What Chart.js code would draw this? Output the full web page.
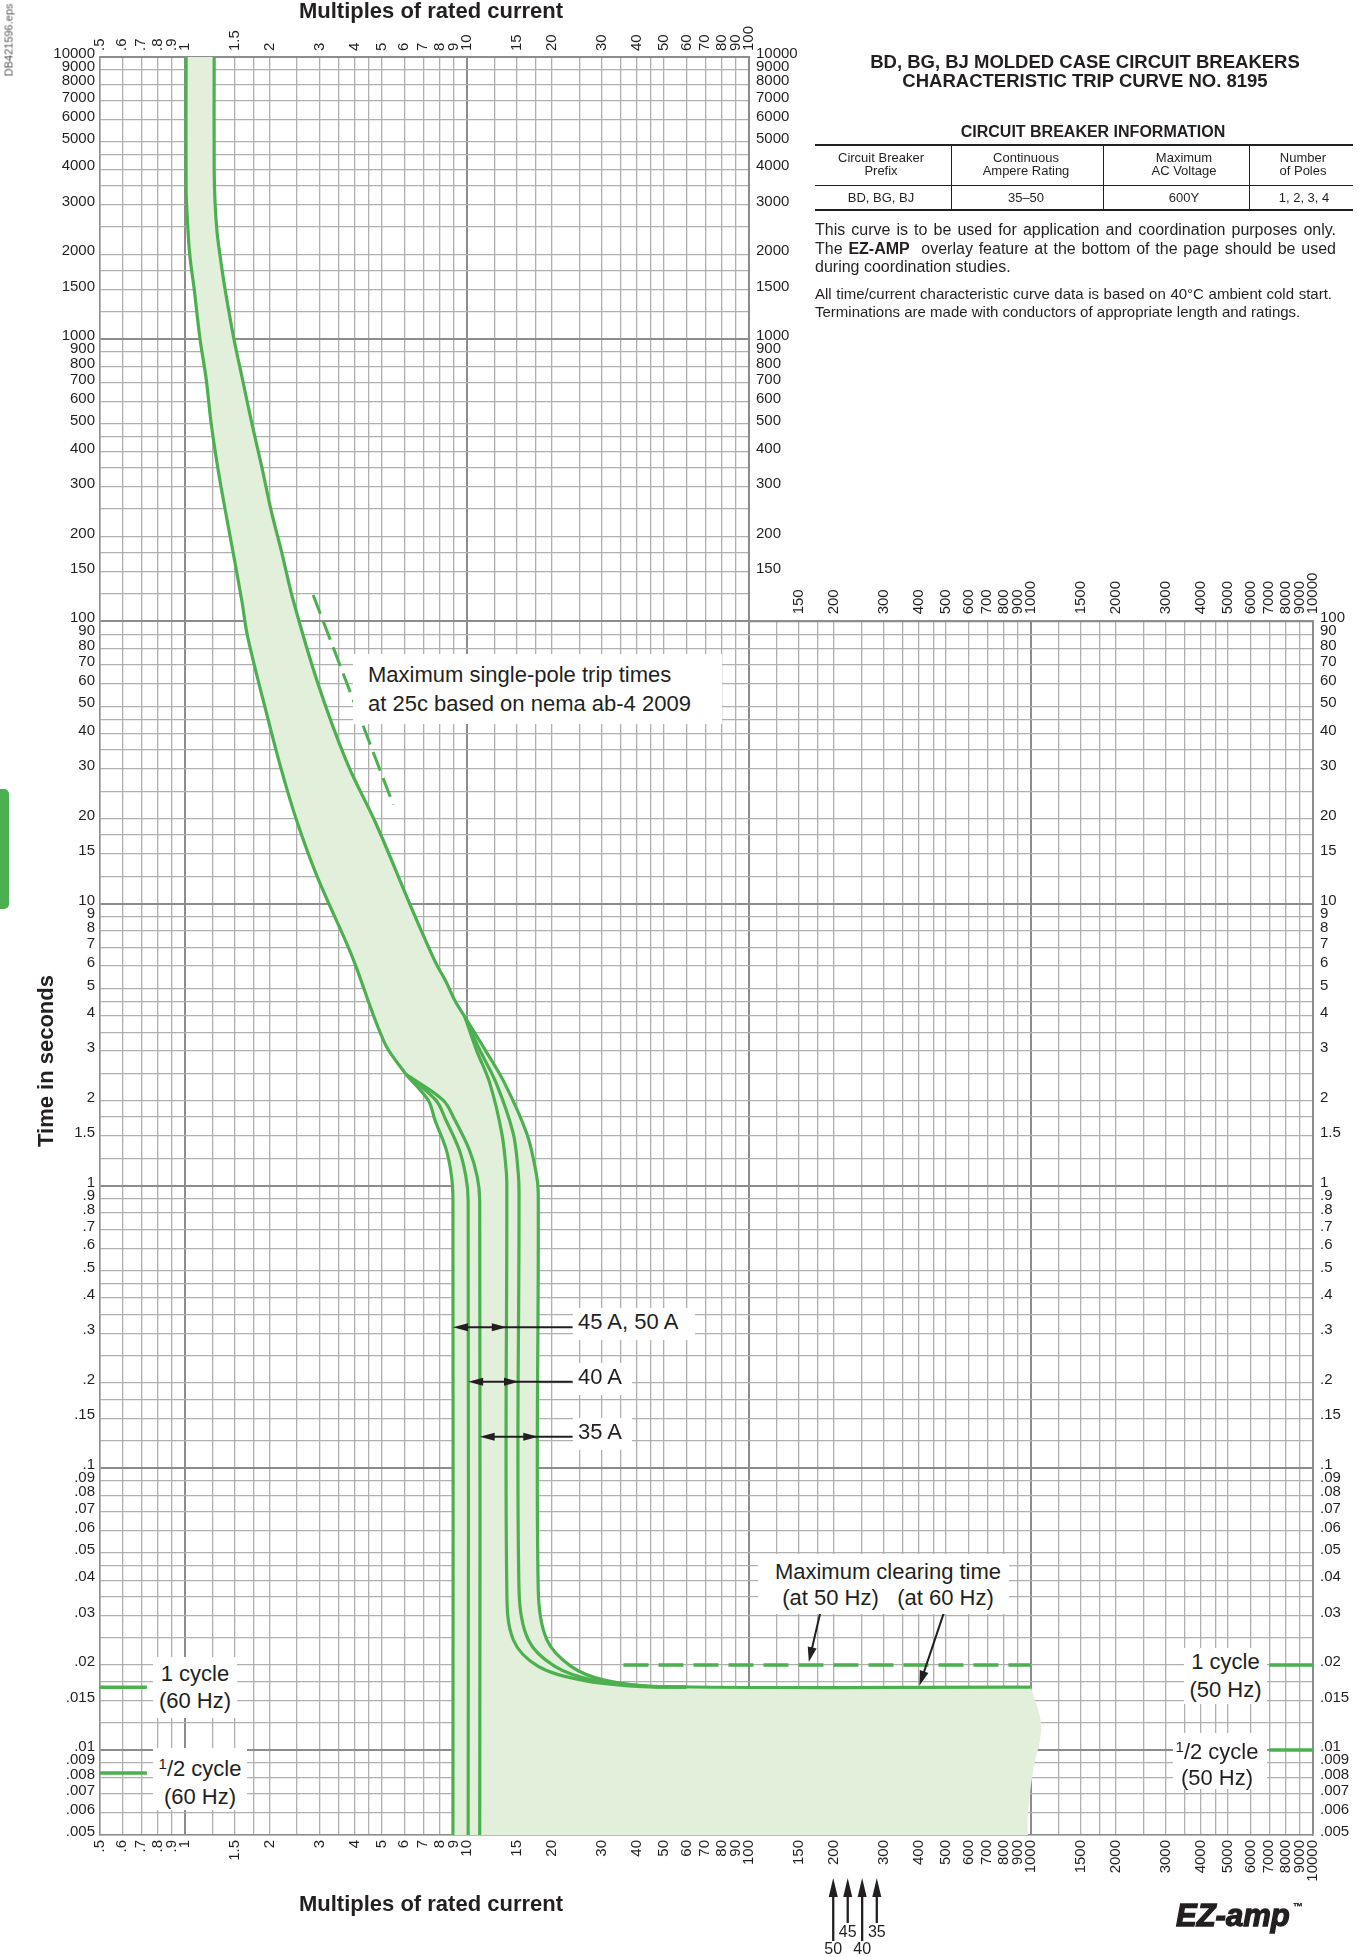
<!DOCTYPE html>
<html lang="en">
<head>
<meta charset="utf-8">
<title>BD, BG, BJ trip curve 8195</title>
<script src="https://cdn.jsdelivr.net/npm/chart.js@4.4.1/dist/chart.umd.min.js"></script>
<style>
html, body { margin: 0; padding: 0; background: #fff; }
body { position: relative; width: 1362px; height: 1957px; overflow: hidden;
       font-family: "Liberation Sans", Arial, Helvetica, sans-serif; color: #231f20; }
#chart { position: absolute; left: 0; top: 0; }
.t { position: absolute; white-space: nowrap; line-height: 1; }
.c { transform: translate(-50%, -50%); text-align: center; }
.note { position: absolute; background: #fff; font-size: 22px; white-space: nowrap; box-sizing: border-box; }
.rule { position: absolute; background: #231f20; }
.cell { position: absolute; font-size: 13px; line-height: 13px; text-align: center; transform: translate(-50%, -50%); white-space: nowrap; }
.para { position: absolute; left: 815px; text-align: justify; text-align-last: justify; }
.sup { font-size: 15px; vertical-align: 7px; }
</style>
</head>
<body>
<canvas id="chart" width="1362" height="1957"></canvas>

<div class="t" style="left:9px;top:40px;font-size:11px;color:#555;transform:translate(-50%,-50%) rotate(-90deg)">DB421596.eps</div>
<div style="position:absolute;left:0;top:789px;width:9px;height:120px;background:#4cb050;border-radius:0 5px 5px 0"></div>

<div class="t c" style="left:431px;top:11px;font-weight:bold;font-size:22px">Multiples of rated current</div>
<div class="t c" style="left:431px;top:1904px;font-weight:bold;font-size:22px">Multiples of rated current</div>
<div class="t" style="left:46px;top:1061px;font-weight:bold;font-size:22px;transform:translate(-50%,-50%) rotate(-90deg)">Time in seconds</div>

<div class="t c" style="left:1085px;top:71px;font-weight:bold;font-size:18.5px;line-height:19px">BD, BG, BJ MOLDED CASE CIRCUIT BREAKERS<br>CHARACTERISTIC TRIP CURVE NO. 8195</div>
<div class="t c" style="left:1093px;top:131.5px;font-weight:bold;font-size:16px">CIRCUIT BREAKER INFORMATION</div>

<div class="rule" style="left:815px;top:144px;width:538px;height:2px"></div>
<div class="rule" style="left:815px;top:184.5px;width:538px;height:1px"></div>
<div class="rule" style="left:815px;top:209px;width:538px;height:2px"></div>
<div class="rule" style="left:951px;top:146px;width:1px;height:63px"></div>
<div class="rule" style="left:1103px;top:146px;width:1px;height:63px"></div>
<div class="rule" style="left:1249px;top:146px;width:1px;height:63px"></div>
<div class="cell" style="left:881px;top:163.5px">Circuit Breaker<br>Prefix</div>
<div class="cell" style="left:1026px;top:163.5px">Continuous<br>Ampere Rating</div>
<div class="cell" style="left:1184px;top:163.5px">Maximum<br>AC Voltage</div>
<div class="cell" style="left:1303px;top:163.5px">Number<br>of Poles</div>
<div class="cell" style="left:881px;top:197px">BD, BG, BJ</div>
<div class="cell" style="left:1026px;top:197px">35–50</div>
<div class="cell" style="left:1184px;top:197px">600Y</div>
<div class="cell" style="left:1304px;top:197px">1, 2, 3, 4</div>

<div class="para" style="top:221px;width:521px;font-size:16px;line-height:18.5px">This curve is to be used for application and coordination purposes only.</div>
<div class="para" style="top:239.5px;width:521px;font-size:16px;line-height:18.5px">The <b>EZ-AMP</b>&nbsp; overlay feature at the bottom of the page should be used</div>
<div class="para" style="top:258px;width:521px;font-size:16px;line-height:18.5px;text-align:left;text-align-last:left">during coordination studies.</div>
<div class="para" style="top:284.5px;width:517px;font-size:15px;line-height:18px">All time/current characteristic curve data is based on 40°C ambient cold start.</div>
<div class="para" style="top:302.5px;width:521px;font-size:15px;line-height:18px;text-align:left;text-align-last:left">Terminations are made with conductors of appropriate length and ratings.</div>

<div class="note" style="left:353px;top:654px;width:369px;height:70px;padding:6px 0 0 15px;line-height:29px">Maximum single-pole trip times<br>at 25c based on nema ab-4 2009</div>
<div class="note" style="left:573px;top:1308px;width:122px;height:32px;padding-left:5px;line-height:28px">45 A, 50 A</div>
<div class="note" style="left:573px;top:1363px;width:59px;height:32px;padding-left:5px;line-height:28px">40 A</div>
<div class="note" style="left:573px;top:1418px;width:59px;height:32px;padding-left:5px;line-height:28px">35 A</div>
<div class="note" style="left:758px;top:1554px;width:251px;height:60px;padding:5px 0 0 9px;line-height:26px;text-align:center">Maximum clearing time<br>(at 50 Hz)&nbsp;&nbsp;&nbsp;(at 60 Hz)</div>
<div class="note" style="left:153px;top:1657px;width:84px;height:61px;padding-top:2.5px;line-height:27px;text-align:center">1 cycle<br>(60 Hz)</div>
<div class="note" style="left:153px;top:1748px;width:94px;height:62px;padding-top:2px;line-height:28px;text-align:center"><span class="sup">1</span>/2 cycle<br>(60 Hz)</div>
<div class="note" style="left:1184px;top:1648px;width:83px;height:56px;line-height:28px;text-align:center">1 cycle<br>(50 Hz)</div>
<div class="note" style="left:1173px;top:1733px;width:94px;height:56px;padding:1px 6px 0 0;line-height:26px;text-align:center"><span class="sup">1</span>/2 cycle<br>(50 Hz)</div>

<div class="t" style="left:1176px;top:1891px;font-style:italic;font-weight:bold;font-size:31px;line-height:31px;letter-spacing:0px;-webkit-text-stroke:1.3px #231f20">EZ-amp<span style="font-size:10px;vertical-align:16px;font-style:normal;-webkit-text-stroke:0.3px #231f20;margin-left:3px">™</span></div>

<script>
// tick labels (as printed on the sheet)
const xTickLabels = ['.5', '.6', '.7', '.8', '.9', '1', '1.5', '2', '3', '4', '5', '6', '7', '8', '9',
  '10', '15', '20', '30', '40', '50', '60', '70', '80', '90', '100', '150', '200', '300', '400', '500',
  '600', '700', '800', '900', '1000', '1500', '2000', '3000', '4000', '5000', '6000', '7000', '8000', '9000', '10000'];
const yTickLabels = ['.005', '.006', '.007', '.008', '.009', '.01', '.015', '.02', '.03', '.04', '.05', '.06',
  '.07', '.08', '.09', '.1', '.15', '.2', '.3', '.4', '.5', '.6', '.7', '.8', '.9', '1', '1.5', '2', '3', '4',
  '5', '6', '7', '8', '9', '10', '15', '20', '30', '40', '50', '60', '70', '80', '90', '100', '150', '200',
  '300', '400', '500', '600', '700', '800', '900', '1000', '1500', '2000', '3000', '4000', '5000', '6000',
  '7000', '8000', '9000', '10000'];
// grid rulings inside each decade
const gridSteps = [1, 1.25, 1.5, 1.75, 2, 2.5, 3, 3.5, 4, 4.5, 5, 6, 7, 8, 9];

// minimum trip (left edge of band), multiples / seconds
const minTripX = [1.01, 1.01, 1.02, 1.04, 1.08, 1.13, 1.19, 1.24, 1.31, 1.39, 1.48, 1.59, 1.67, 1.95, 2.2, 2.49, 2.95, 3.89, 5.11, 6.08];
const minTripY = [10000, 3400, 2670, 2000, 1490, 1010, 721, 500, 347, 248, 177, 119, 88, 47, 29.7, 19.7, 12.4, 6.6, 3.2, 2.48];
// maximum trip (right edge of band)
const maxTripX = [1.27, 1.27, 1.28, 1.30, 1.33, 1.39, 1.49, 1.60, 1.73, 1.88, 2.02, 2.20, 2.42, 2.95, 3.76, 4.77, 6.29, 7.73, 8.42, 9.06, 9.84];
const maxTripY = [10000, 4000, 3000, 2400, 2000, 1490, 1010, 721, 500, 347, 248, 177, 119, 61, 31.5, 19.1, 9.9, 6.2, 5.3, 4.53, 3.96];

// instantaneous, low side (one per rating)
const instLoY = [2.48, 2.01, 1.71, 1.34, 1.08, 0.89, 0.005];
const inst50LoX = [6.08, 7.29, 7.7, 8.45, 8.82, 8.92, 8.92];
const inst40LoX = [6.08, 7.76, 8.42, 9.39, 9.91, 10.1, 10.1];
const inst35LoX = [6.08, 8.23, 9.06, 10.2, 10.87, 11.1, 11.1];
// instantaneous, high side into max clearing time
const instHiY = [3.96, 3.03, 2.31, 1.53, 1.11, 0.94, 0.037, 0.0246, 0.0198, 0.0177, 0.0168, 0.0167];
const inst50HiX = [9.84, 10.8, 12.05, 13.3, 13.8, 13.85, 13.85, 14.6, 17.9, 25.6, 40.2, 60];
const inst40HiX = [9.84, 11.1, 12.7, 14.6, 15.2, 15.3, 15.3, 16.5, 20.5, 28, 44, 60];
const inst35HiX = [9.84, 11.6, 13.6, 16.3, 17.6, 17.9, 17.9, 19.2, 23.4, 30.7, 48.1, 1000];
// torn edge of the shaded area
const edgeX = [975, 972, 1014, 1087, 1000];
const edgeY = [0.005, 0.00566, 0.0083, 0.0121, 0.0167];

// dashed: NEMA AB-4 single pole, and 50 Hz clearing time
const nemaX = [2.85, 5.48];
const nemaY = [124, 22.4];
const clear50X = [35.9, 1000];
const clear50Y = [0.02, 0.02];
// cycle marks
const markLeftX = [0.5, 0.733];
const markRightX = [7000, 10000];
const cycle60 = 0.0167, halfCycle60 = 0.0083, cycle50 = 0.02, halfCycle50 = 0.01;

// annotation arrows
const ratingArrowY = [0.315, 0.202, 0.129];
const ratingArrowFrom = [8.92, 10.1, 11.1];
const ratingArrowTo = [13.85, 15.3, 17.9];
const ratingArrowTail = 23.7;
const clearArrowFromX = [180, 495];
const clearArrowFromY = [0.0314, 0.0314];
const clearArrowTipX = [163, 402];
const clearArrowTipY = [0.0205, 0.0169];
const overlayArrowX = [199, 224, 252, 284];
const overlayArrowLabels = ['50', '45', '40', '35'];

const green = '#4cb050';
const shade = '#e2efda';
const ink = '#231f20';
const tickFont = { family: '"Liberation Sans", Arial, sans-serif', size: 15 };

function buildGrid(lo, hi) {
  const out = [];
  for (let e = -3; e <= 4; e++) {
    for (const m of gridSteps) {
      const v = +(m * Math.pow(10, e)).toPrecision(6);
      if (v >= lo && v <= hi) out.push(v);
    }
  }
  return out;
}
const xGrid = buildGrid(0.5, 10000);
const yGrid = buildGrid(0.005, 10000);

function labelOf(v, labels) {
  for (const s of labels) {
    const n = parseFloat(s);
    if (Math.abs(n - v) <= n * 1e-6) return s;
  }
  return '';
}
const isDecade = v => Math.abs(Math.log10(v) - Math.round(Math.log10(v))) < 1e-6;
const gridColor = c => (c.tick && isDecade(c.tick.value)) ? '#8c8c8c' : '#b0b0b0';
const gridWidth = c => (c.tick && isDecade(c.tick.value)) ? 2 : 1.3;

const pts = (xs, ys) => xs.map((x, i) => ({ x: x, y: Array.isArray(ys) ? ys[i] : ys }));

function curve(xs, ys, extra) {
  return Object.assign({
    data: pts(xs, ys), borderColor: green, borderWidth: 3.2, pointRadius: 0,
    fill: false, tension: 0.35, borderJoinStyle: 'round', order: 1
  }, extra || {});
}

// outline of the shaded band: left edge down, across the bottom, up the torn edge, back along the right edge
const minPts = pts(minTripX, minTripY);
const lo50 = pts(inst50LoX, instLoY);
const hi35 = pts(inst35HiX, instHiY);
const maxPts = pts(maxTripX, maxTripY);
const edgePts = pts(edgeX, edgeY);
const bandOutline = [].concat(
  minPts,
  lo50.slice(1),
  [lo50[lo50.length - 1]],
  [edgePts[0]],
  edgePts,
  [edgePts[edgePts.length - 1]],
  hi35.slice(0, -1).reverse(),
  maxPts.slice(0, -1).reverse(),
  [maxPts[0]]
);

function head(ctx, tx, ty, fx, fy, len, half) {
  const a = Math.atan2(ty - fy, tx - fx);
  const bx = tx - len * Math.cos(a), by = ty - len * Math.sin(a);
  ctx.beginPath();
  ctx.moveTo(tx, ty);
  ctx.lineTo(bx + half * Math.sin(a), by - half * Math.cos(a));
  ctx.lineTo(bx - half * Math.sin(a), by + half * Math.cos(a));
  ctx.closePath();
  ctx.fill();
}

const overlay = {
  id: 'overlay',
  beforeDatasetsDraw(chart) {
    const { ctx, chartArea: a } = chart;
    const xs = chart.scales.x, ys = chart.scales.y;
    const cx = xs.getPixelForValue(100), cy = ys.getPixelForValue(100);
    ctx.save();
    // the info block sits in the upper right, no ruling there
    ctx.fillStyle = '#fff';
    ctx.fillRect(cx + 1.2, a.top - 3, a.right + 3 - cx - 1.2, cy - 1.2 - (a.top - 3));
    ctx.strokeStyle = '#8c8c8c';
    ctx.lineWidth = 2;
    ctx.beginPath();
    ctx.moveTo(cx, a.top);
    ctx.lineTo(cx, cy);
    ctx.lineTo(a.right, cy);
    ctx.stroke();
    // inner scale labels
    ctx.fillStyle = ink;
    ctx.font = '15px "Liberation Sans", Arial, sans-serif';
    ctx.textAlign = 'left';
    ctx.textBaseline = 'middle';
    for (const s of yTickLabels) {
      const v = parseFloat(s);
      if (v >= 150) ctx.fillText(s, cx + 7, ys.getPixelForValue(v) - 3);
    }
    for (const s of xTickLabels) {
      const v = parseFloat(s);
      if (v < 150) continue;
      ctx.save();
      ctx.translate(xs.getPixelForValue(v), cy - 7);
      ctx.rotate(-Math.PI / 2);
      ctx.fillText(s, 0, 0);
      ctx.restore();
    }
    ctx.restore();
  },
  afterDatasetsDraw(chart) {
    const { ctx } = chart;
    const xs = chart.scales.x, ys = chart.scales.y;
    ctx.save();
    ctx.strokeStyle = ink;
    ctx.fillStyle = ink;
    ctx.lineWidth = 2;
    ratingArrowY.forEach((v, i) => {
      const y = ys.getPixelForValue(v);
      const x1 = xs.getPixelForValue(ratingArrowFrom[i]);
      const x2 = xs.getPixelForValue(ratingArrowTo[i]);
      const x3 = xs.getPixelForValue(ratingArrowTail);
      ctx.beginPath();
      ctx.moveTo(x1 + 6, y);
      ctx.lineTo(x3, y);
      ctx.stroke();
      head(ctx, x1, y, x1 + 10, y, 15, 4);
      head(ctx, x2, y, x2 - 10, y, 15, 4);
    });
    clearArrowTipX.forEach((v, i) => {
      const fx = xs.getPixelForValue(clearArrowFromX[i]), fy = ys.getPixelForValue(clearArrowFromY[i]);
      const tx = xs.getPixelForValue(v), ty = ys.getPixelForValue(clearArrowTipY[i]);
      ctx.beginPath();
      ctx.moveTo(fx, fy);
      ctx.lineTo(tx + (fx - tx) * 0.15, ty + (fy - ty) * 0.15);
      ctx.stroke();
      head(ctx, tx, ty, fx, fy, 15, 4.5);
    });
    // EZ-AMP overlay pointers under the bottom scale
    ctx.lineWidth = 2.3;
    ctx.font = '16px "Liberation Sans", Arial, sans-serif';
    ctx.textAlign = 'center';
    ctx.textBaseline = 'middle';
    overlayArrowX.forEach((v, i) => {
      const x = xs.getPixelForValue(v);
      const long = i % 2 === 0;
      ctx.beginPath();
      ctx.moveTo(x, 1890);
      ctx.lineTo(x, long ? 1941 : 1923);
      ctx.stroke();
      head(ctx, x, 1878, x, 1900, 19, 4.5);
      ctx.fillText(overlayArrowLabels[i], x, long ? 1950 : 1933);
    });
    ctx.restore();
  }
};

function logAxis(position, min, max, grid, labels, limit, size, padding, drawGrid, shift) {
  const horizontal = position === 'top' || position === 'bottom';
  return {
    type: 'logarithmic', position: position, min: min, max: max, bounds: 'data',
    afterBuildTicks: s => { s.ticks = grid.map(v => ({ value: v })); },
    afterFit: s => { if (horizontal) s.height = size; else s.width = size; },
    grid: drawGrid ? { color: gridColor, lineWidth: gridWidth, drawTicks: false } : { display: false, drawTicks: false },
    border: { display: true, color: '#8c8c8c', width: 1.5 },
    ticks: {
      autoSkip: false, padding: padding, font: tickFont, color: ink, labelOffset: shift,
      minRotation: horizontal ? 90 : 0, maxRotation: horizontal ? 90 : 0,
      callback: v => (v <= limit ? labelOf(v, labels) : '')
    }
  };
}

new Chart(document.getElementById('chart'), {
  type: 'line',
  data: {
    datasets: [
      { data: bandOutline, fill: 'shape', backgroundColor: shade, borderColor: 'rgba(0,0,0,0)',
        borderWidth: 0, pointRadius: 0, tension: 0.35, order: 9 },
      curve(minTripX, minTripY),
      curve(maxTripX, maxTripY),
      curve(inst50LoX, instLoY),
      curve(inst40LoX, instLoY),
      curve(inst35LoX, instLoY),
      curve(inst50HiX, instHiY),
      curve(inst40HiX, instHiY),
      curve(inst35HiX, instHiY),
      curve(nemaX, nemaY, { borderDash: [20, 8], borderWidth: 3, tension: 0, borderCapStyle: 'butt' }),
      curve(clear50X, clear50Y, { borderDash: [25, 10], borderWidth: 3.5, tension: 0, borderCapStyle: 'butt' }),
      curve(markLeftX, cycle60, { borderWidth: 3.5, tension: 0 }),
      curve(markLeftX, halfCycle60, { borderWidth: 3.5, tension: 0 }),
      curve(markRightX, cycle50, { borderWidth: 3.5, tension: 0 }),
      curve(markRightX, halfCycle50, { borderWidth: 3.5, tension: 0 })
    ]
  },
  options: {
    responsive: false,
    animation: false,
    devicePixelRatio: 1,
    events: [],
    layout: { padding: 0 },
    plugins: { legend: { display: false }, tooltip: { enabled: false } },
    scales: {
      x: logAxis('bottom', 0.5, 10000, xGrid, xTickLabels, 10000, 122, 5, true, 0),
      x2: logAxis('top', 0.5, 10000, xGrid, xTickLabels, 100, 57, 6, false, 18),
      y: logAxis('left', 0.005, 10000, yGrid, yTickLabels, 10000, 100, 5, true, -3),
      y2: logAxis('right', 0.005, 10000, yGrid, yTickLabels, 100, 49, 7, false, -3)
    }
  },
  plugins: [overlay]
});
</script>
</body>
</html>
